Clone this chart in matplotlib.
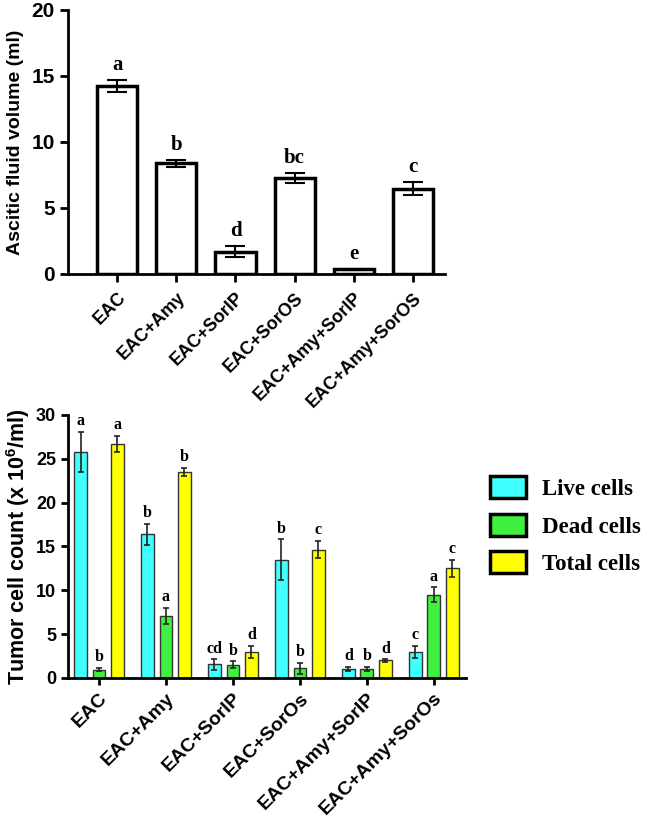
import numpy as np
import matplotlib
matplotlib.use('Agg')
import matplotlib.pyplot as plt
from matplotlib.patches import Patch

plt.rcParams['font.family'] = 'Liberation Sans'
plt.rcParams['font.weight'] = 'bold'
plt.rcParams['mathtext.fontset'] = 'custom'
plt.rcParams['mathtext.rm'] = 'Liberation Sans:bold'
plt.rcParams['mathtext.default'] = 'rm'

# top chart: ascitic fluid volume
groups_top = ['EAC', 'EAC+Amy', 'EAC+SorIP', 'EAC+SorOS', 'EAC+Amy+SorIP', 'EAC+Amy+SorOS']
volume = [14.25, 8.38, 1.67, 7.25, 0.35, 6.45]
volume_err = [0.45, 0.27, 0.42, 0.38, 0.03, 0.5]
volume_letters = ['a', 'b', 'd', 'bc', 'e', 'c']

# bottom chart: tumor cell count
groups_bot = ['EAC', 'EAC+Amy', 'EAC+SorIP', 'EAC+SorOs', 'EAC+Amy+SorIP', 'EAC+Amy+SorOs']
live = [25.8, 16.4, 1.55, 13.5, 1.0, 3.0]
live_err = [2.3, 1.2, 0.6, 2.3, 0.25, 0.7]
dead = [0.95, 7.08, 1.5, 1.1, 1.0, 9.5]
dead_err = [0.2, 0.9, 0.4, 0.6, 0.25, 0.85]
total = [26.7, 23.5, 2.95, 14.65, 2.0, 12.5]
total_err = [0.9, 0.5, 0.7, 1.0, 0.15, 1.0]
live_letters = ['a', 'b', 'cd', 'b', 'd', 'c']
dead_letters = ['b', 'a', 'b', 'b', 'b', 'a']
total_letters = ['a', 'b', 'd', 'c', 'd', 'c']

fig = plt.figure(figsize=(6.45, 8.24), dpi=100)

# ---- top panel ----
ax1 = fig.add_axes([0.1054, 0.6675, 0.5845, 0.3204])
x = np.arange(len(groups_top))
ax1.bar(x, volume, width=0.68, color='white', edgecolor='black', linewidth=2.5, zorder=2)
ax1.errorbar(x, volume, yerr=volume_err, fmt='none', ecolor='black', elinewidth=1.5,
             capsize=7, capthick=1.5, zorder=3)
for xi, v, e, l in zip(x, volume, volume_err, volume_letters):
    ax1.text(xi, v + e + 0.4, l, ha='center', va='bottom', family='Liberation Serif',
             fontweight='bold', fontsize=15)
ax1.set_xlim(-0.83, 5.54)
ax1.set_ylim(0, 20)
ax1.set_yticks([0, 5, 10, 15, 20])
ax1.set_xticks(x)
ax1.set_xticklabels(groups_top, rotation=45, ha='right', rotation_mode='anchor', fontsize=13)
ax1.set_ylabel('Ascitic fluid volume (ml)', fontsize=14, fontweight='bold', labelpad=5)
ax1.tick_params(axis='y', labelsize=15, width=2, length=6)
ax1.tick_params(axis='x', width=2, length=6, pad=5)
for s in ['top', 'right']:
    ax1.spines[s].set_visible(False)
for s in ['left', 'bottom']:
    ax1.spines[s].set_linewidth(2)

# ---- bottom panel ----
ax2 = fig.add_axes([0.1054, 0.1772, 0.617, 0.3192])
xb = np.arange(len(groups_bot))
off = 0.276
w = 0.19
series = [(live, live_err, live_letters, '#40FFFF', -off),
          (dead, dead_err, dead_letters, '#40F040', 0),
          (total, total_err, total_letters, '#FFFF00', off)]
for vals, errs, letters, col, o in series:
    ax2.bar(xb + o, vals, width=w, color=col, edgecolor='#333333', linewidth=1, zorder=2)
    ax2.errorbar(xb + o, vals, yerr=errs, fmt='none', ecolor='#222222', elinewidth=1.2,
                 capsize=2.3, capthick=1.2, zorder=3)
    for xi, v, e, l in zip(xb + o, vals, errs, letters):
        ax2.text(xi, v + e + 0.3, l, ha='center', va='bottom', family='Liberation Serif',
                 fontweight='bold', fontsize=11.5)
ax2.set_xlim(-0.463, 5.48)
ax2.set_ylim(0, 30)
ax2.set_yticks([0, 5, 10, 15, 20, 25, 30])
ax2.set_xticks(xb)
ax2.set_xticklabels(groups_bot, rotation=45, ha='right', rotation_mode='anchor', fontsize=14)
ax2.set_ylabel('Tumor cell count (x 10$^{6}$/ml)', fontsize=15.5, fontweight='bold', labelpad=3)
ax2.tick_params(axis='y', labelsize=13, width=2, length=5)
ax2.tick_params(axis='x', width=2, length=5)
for s in ['top', 'right']:
    ax2.spines[s].set_visible(False)
for s in ['left', 'bottom']:
    ax2.spines[s].set_linewidth(2)

handles = [Patch(facecolor='#40FFFF', edgecolor='black', linewidth=2.5, label='Live cells'),
           Patch(facecolor='#40F040', edgecolor='black', linewidth=2.5, label='Dead cells'),
           Patch(facecolor='#FFFF00', edgecolor='black', linewidth=2.5, label='Total cells')]
fig.legend(handles=handles, loc='upper left', bbox_to_anchor=(0.745, 0.433), frameon=False,
           prop={'family': 'Liberation Serif', 'weight': 'bold', 'size': 16.5},
           handlelength=1.6, handleheight=1.1, labelspacing=0.6, handletextpad=0.7,
           borderaxespad=0)

fig.savefig('out.png', dpi=100)
